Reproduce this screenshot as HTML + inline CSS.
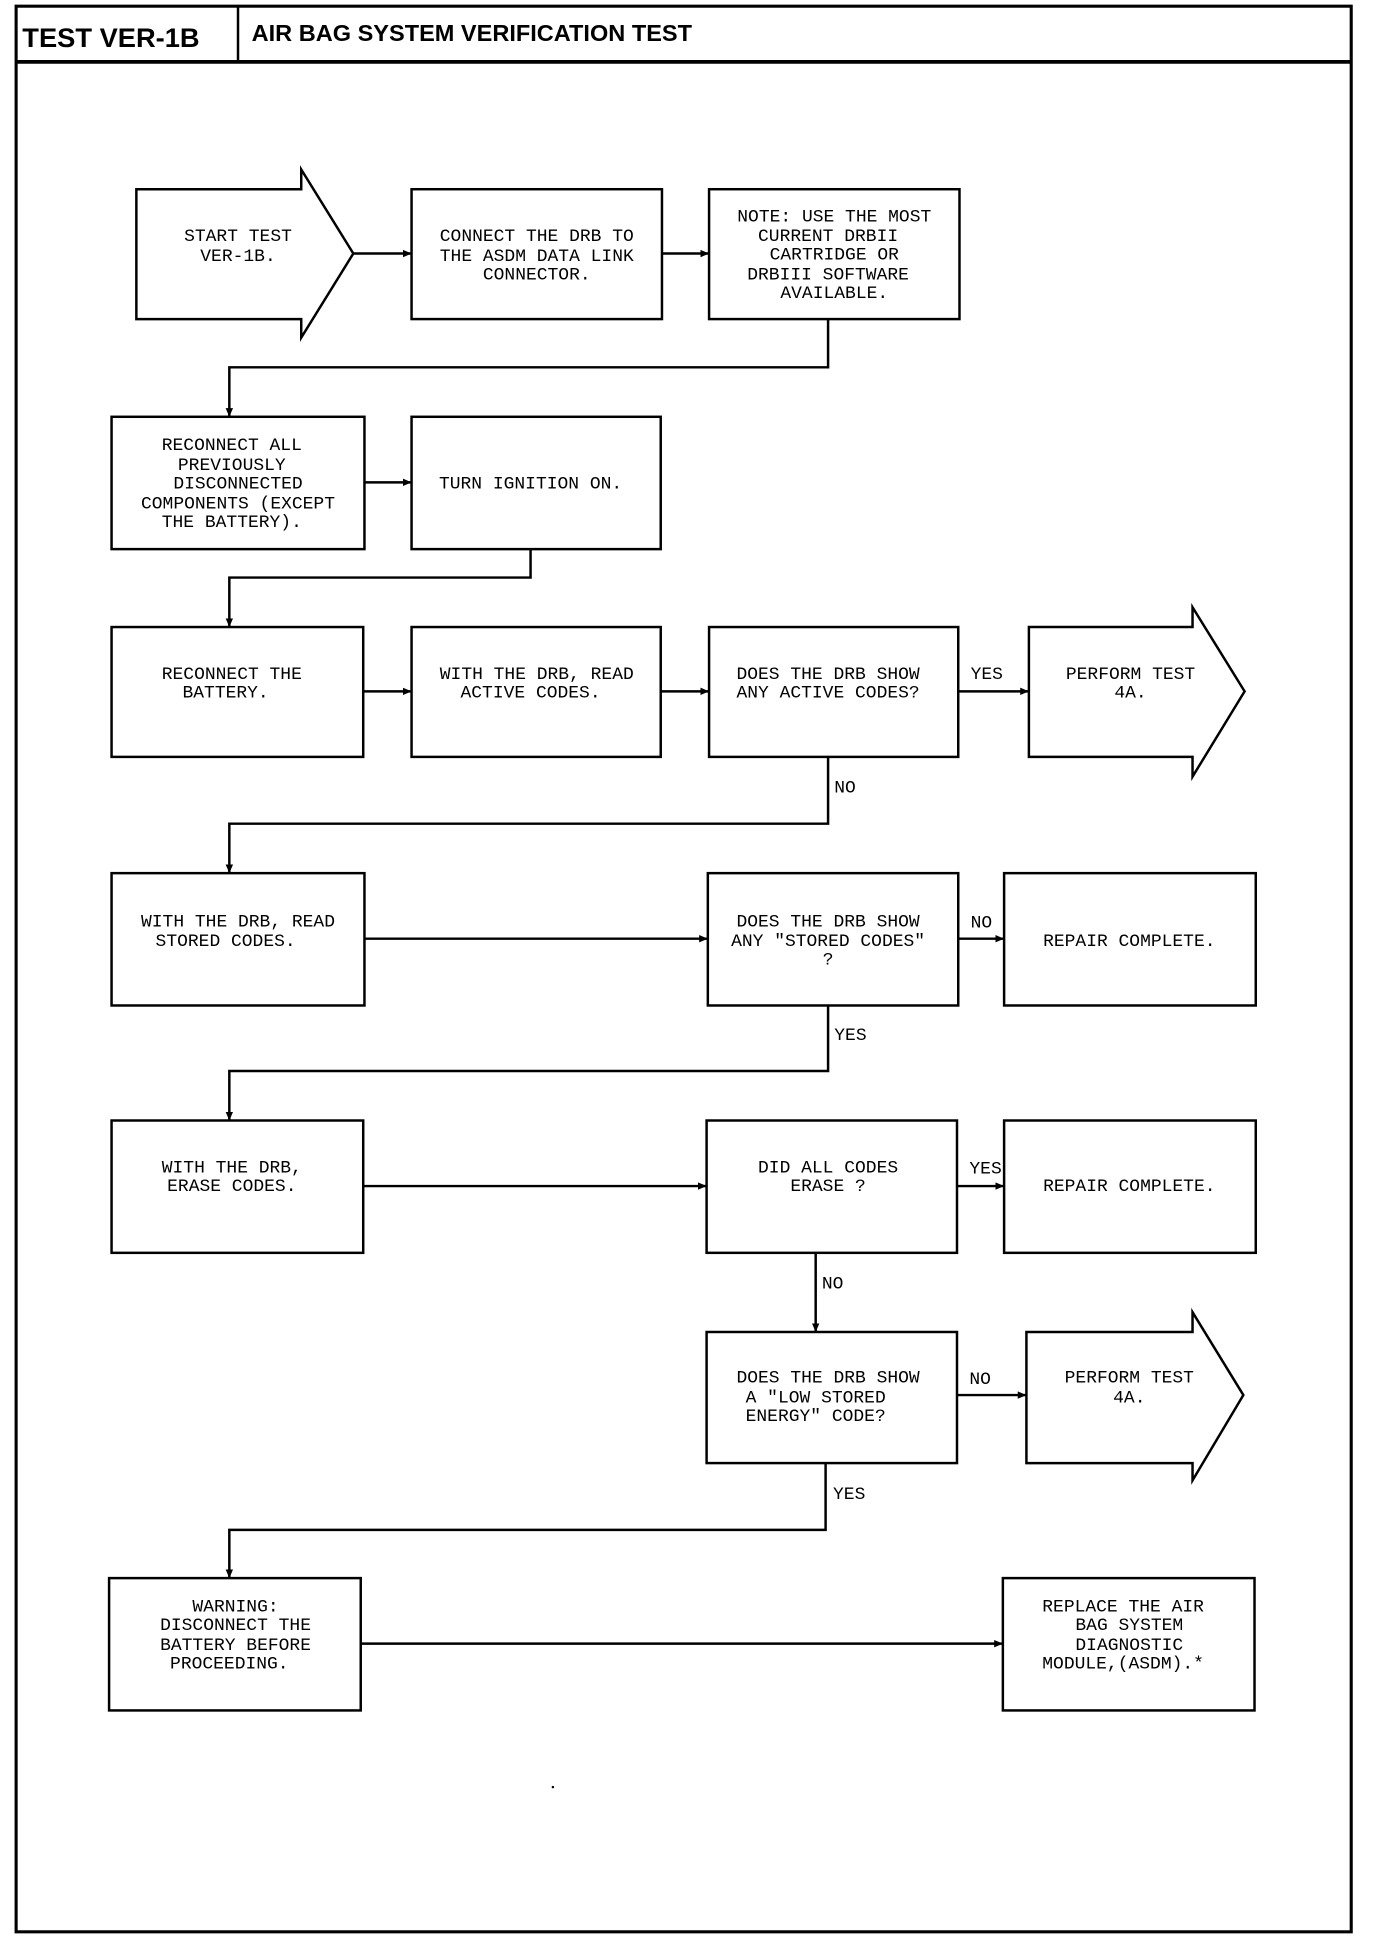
<!DOCTYPE html>
<html><head><meta charset="utf-8"><style>
html,body{margin:0;padding:0;background:#fff;}
svg{display:block;}
text{font-family:"Liberation Mono",monospace;font-size:14.5px;fill:#000;}
.h{font-family:"Liberation Sans",sans-serif;font-weight:bold;}
</style></head><body>
<svg width="1376" height="1938" viewBox="0 0 1110 1567" preserveAspectRatio="none" xmlns="http://www.w3.org/2000/svg">
<defs><marker id="a" markerWidth="8" markerHeight="8" refX="7" refY="4" orient="auto" markerUnits="userSpaceOnUse"><path d="M0,1 L7,4 L0,7 z" fill="#000"/></marker></defs>
<g fill="none" stroke="#000" stroke-width="2">
<rect x="13" y="5" width="1077" height="1557" stroke-width="2.5"/>
<line x1="13" y1="50" x2="1090" y2="50" stroke-width="3"/>
<line x1="192" y1="5" x2="192" y2="50"/>
<!-- row1 -->
<path d="M110,153 H243 V137 L285,205 L243,273 V258 H110 Z"/>
<rect x="332" y="153" width="202" height="105"/>
<rect x="572" y="153" width="202" height="105"/>
<line x1="285" y1="205" x2="332" y2="205" marker-end="url(#a)"/>
<line x1="534" y1="205" x2="572" y2="205" marker-end="url(#a)"/>
<polyline points="668,258 668,297 185,297 185,337" marker-end="url(#a)"/>
<!-- row2 -->
<rect x="90" y="337" width="204" height="107"/>
<rect x="332" y="337" width="201" height="107"/>
<line x1="294" y1="390" x2="332" y2="390" marker-end="url(#a)"/>
<polyline points="428,444 428,467 185,467 185,507" marker-end="url(#a)"/>
<!-- row3 -->
<rect x="90" y="507" width="203" height="105"/>
<rect x="332" y="507" width="201" height="105"/>
<rect x="572" y="507" width="201" height="105"/>
<path d="M830,507 H962 V491 L1004,559 L962,628 V612 H830 Z"/>
<line x1="293" y1="559" x2="332" y2="559" marker-end="url(#a)"/>
<line x1="533" y1="559" x2="572" y2="559" marker-end="url(#a)"/>
<line x1="773" y1="559" x2="830" y2="559" marker-end="url(#a)"/>
<polyline points="668,612 668,666 185,666 185,706" marker-end="url(#a)"/>
<!-- row4 -->
<rect x="90" y="706" width="204" height="107"/>
<rect x="571" y="706" width="202" height="107"/>
<rect x="810" y="706" width="203" height="107"/>
<line x1="294" y1="759" x2="571" y2="759" marker-end="url(#a)"/>
<line x1="773" y1="759" x2="810" y2="759" marker-end="url(#a)"/>
<polyline points="668,813 668,866 185,866 185,906" marker-end="url(#a)"/>
<!-- row5 -->
<rect x="90" y="906" width="203" height="107"/>
<rect x="570" y="906" width="202" height="107"/>
<rect x="810" y="906" width="203" height="107"/>
<line x1="293" y1="959" x2="570" y2="959" marker-end="url(#a)"/>
<line x1="772" y1="959" x2="810" y2="959" marker-end="url(#a)"/>
<line x1="658" y1="1013" x2="658" y2="1077" marker-end="url(#a)"/>
<!-- row6 -->
<rect x="570" y="1077" width="202" height="106"/>
<path d="M828,1077 H962 V1061 L1003,1128 L962,1197 V1183 H828 Z"/>
<line x1="772" y1="1128" x2="828" y2="1128" marker-end="url(#a)"/>
<polyline points="666,1183 666,1237 185,1237 185,1276" marker-end="url(#a)"/>
<!-- row7 -->
<rect x="88" y="1276" width="203" height="107"/>
<rect x="809" y="1276" width="203" height="107"/>
<line x1="291" y1="1329" x2="809" y2="1329" marker-end="url(#a)"/>
</g>
<circle cx="446" cy="1445" r="1" fill="#000"/>
<text class="h" x="18" y="38" font-size="22" style="font-size:22px">TEST VER-1B</text>
<text class="h" x="203" y="33" style="font-size:19px">AIR BAG SYSTEM VERIFICATION TEST</text>
<g text-anchor="middle">
<text x="192" y="195">START TEST</text><text x="192" y="211">VER-1B.</text>
<text x="433" y="195">CONNECT THE DRB TO</text><text x="433" y="211">THE ASDM DATA LINK</text><text x="433" y="226">CONNECTOR.</text>
<text x="673" y="179">NOTE: USE THE MOST</text><text x="668" y="195">CURRENT DRBII</text><text x="673" y="210">CARTRIDGE OR</text><text x="668" y="226">DRBIII SOFTWARE</text><text x="673" y="241">AVAILABLE.</text>
<text x="187" y="364">RECONNECT ALL</text><text x="187" y="380">PREVIOUSLY</text><text x="192" y="395">DISCONNECTED</text><text x="192" y="411">COMPONENTS (EXCEPT</text><text x="187" y="426">THE BATTERY).</text>
<text x="428" y="395">TURN IGNITION ON.</text>
<text x="187" y="549">RECONNECT THE</text><text x="182" y="564">BATTERY.</text>
<text x="433" y="549">WITH THE DRB, READ</text><text x="428" y="564">ACTIVE CODES.</text>
<text x="668" y="549">DOES THE DRB SHOW</text><text x="668" y="564">ANY ACTIVE CODES?</text>
<text x="912" y="549">PERFORM TEST</text><text x="912" y="564">4A.</text>
<text x="192" y="749">WITH THE DRB, READ</text><text x="182" y="765">STORED CODES.</text>
<text x="668" y="749">DOES THE DRB SHOW</text><text x="668" y="765">ANY "STORED CODES"</text><text x="668" y="780">?</text>
<text x="911" y="765">REPAIR COMPLETE.</text>
<text x="187" y="948">WITH THE DRB,</text><text x="187" y="963">ERASE CODES.</text>
<text x="668" y="948">DID ALL CODES</text><text x="668" y="963">ERASE ?</text>
<text x="911" y="963">REPAIR COMPLETE.</text>
<text x="668" y="1118">DOES THE DRB SHOW</text><text x="658" y="1134">A "LOW STORED</text><text x="658" y="1149">ENERGY" CODE?</text>
<text x="911" y="1118">PERFORM TEST</text><text x="911" y="1134">4A.</text>
<text x="190" y="1303">WARNING:</text><text x="190" y="1318">DISCONNECT THE</text><text x="190" y="1334">BATTERY BEFORE</text><text x="185" y="1349">PROCEEDING.</text>
<text x="906" y="1303">REPLACE THE AIR</text><text x="911" y="1318">BAG SYSTEM</text><text x="911" y="1334">DIAGNOSTIC</text><text x="906" y="1349">MODULE,(ASDM).*</text>
</g>
<text x="783" y="549">YES</text>
<text x="673" y="641">NO</text>
<text x="783" y="750">NO</text>
<text x="673" y="841">YES</text>
<text x="782" y="949">YES</text>
<text x="663" y="1042">NO</text>
<text x="782" y="1119">NO</text>
<text x="672" y="1212">YES</text>
</svg>
</body></html>
